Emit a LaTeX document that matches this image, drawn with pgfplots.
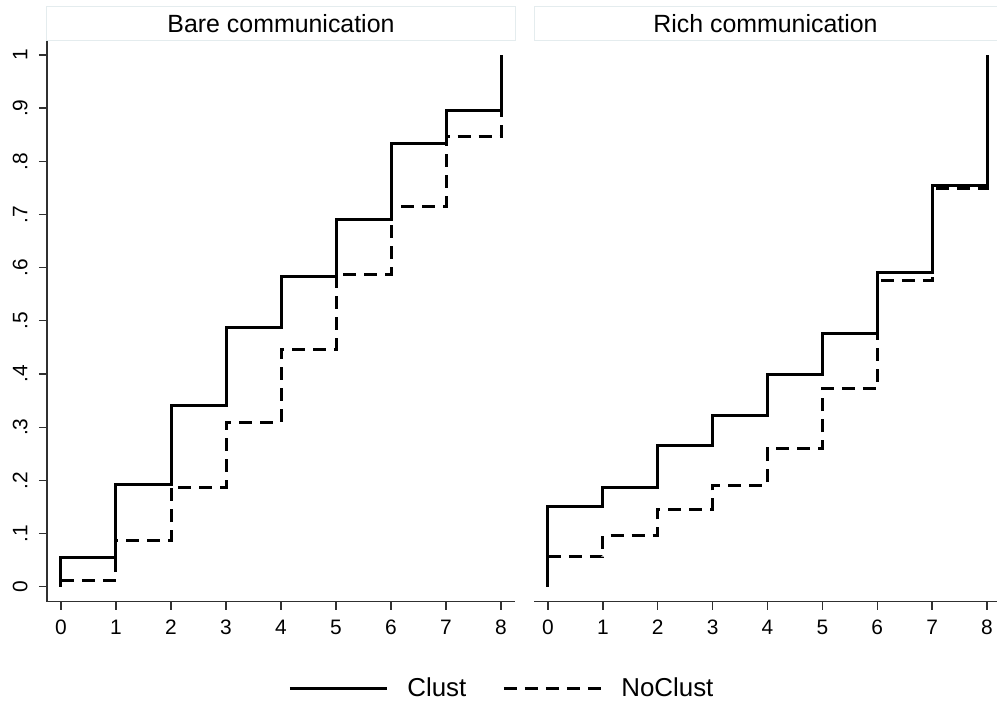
\documentclass[border=0pt]{standalone}
\usepackage{fontspec}
\setmainfont{Liberation Sans}
\usepackage{pgfplots}
\pgfplotsset{compat=1.18}
\definecolor{titleline}{HTML}{E4ECEE}
\definecolor{axgray}{HTML}{303030}
\pgfplotsset{
  every axis title shift=0pt,
  panel/.style={
    scale only axis, height=560.7bp,
    ymin=-0.0282, ymax=1.0263,
    axis x line*=bottom,
    tick align=outside, major tick length=8bp,
    axis line style={axgray, line width=1.3bp},
    every tick/.style={axgray, line width=1.3bp},
    xtick={0,1,2,3,4,5,6,7,8},
    ytick={0,0.1,0.2,0.3,0.4,0.5,0.6,0.7,0.8,0.9,1},
    yticklabels={0,.1,.2,.3,.4,.5,.6,.7,.8,.9,1},
    /pgf/number format/assume math mode=true,
    ticklabel style={font=\fontsize{21}{21}\selectfont},
    xticklabel style={yshift=-7bp},
    yticklabel style={rotate=90, anchor=south, yshift=8bp},
    title style={at={(0.5,1)}, anchor=south, draw=titleline, line width=1bp,
      minimum height=34bp, inner sep=0pt, font=\fontsize{25}{25}\selectfont},
    legend image code/.code={\draw[#1] (0bp,0bp) -- (97bp,0bp);},
  },
  clust/.style={black, const plot, line width=3bp},
  noclust/.style={black, const plot, line width=3bp, dash pattern=on 13bp off 8bp},
}
\begin{document}
\begin{tikzpicture}[x=1bp,y=1bp]
\useasboundingbox (0,0) rectangle (997,703);
\begin{axis}[panel,
  at={(47bp,101.3bp)}, anchor=south west, width=468bp,
  xmin=-0.2545, xmax=8.2545,
  axis y line*=left,
  title={Bare communication},
  title style={minimum width=468bp},
  legend style={at={(0.972,-0.154)}, anchor=center, draw=none, fill=none,
    legend columns=2, font=\fontsize{26}{26}\selectfont,
    /tikz/every odd column/.append style={column sep=17bp},
    /tikz/every even column/.append style={column sep=34bp}},
]
\addplot[clust] coordinates {(0,0) (0,0.0545) (1,0.1926) (2,0.3417) (3,0.488) (4,0.583) (5,0.691) (6,0.8326) (7,0.8965) (8,1)};
\addlegendentry{Clust}
\addplot[noclust] coordinates {(0,0.0126) (1,0.0878) (2,0.187) (3,0.309) (4,0.4465) (5,0.588) (6,0.7154) (7,0.8463) (8,1)};
\addlegendentry{NoClust}
\end{axis}
\begin{axis}[panel,
  at={(534bp,101.3bp)}, anchor=south west, width=463bp,
  xmin=-0.2545, xmax=8.182,
  axis y line=none,
  title={Rich communication},
  title style={minimum width=463bp},
]
\addplot[clust] coordinates {(0,0) (0,0.15) (1,0.1875) (2,0.266) (3,0.3223) (4,0.400) (5,0.4753) (6,0.5906) (7,0.7536) (8,1)};
\addplot[noclust] coordinates {(0,0.0564) (1,0.0967) (2,0.146) (3,0.191) (4,0.259) (5,0.3724) (6,0.5755) (7,0.7486) (8,1)};
\end{axis}
\end{tikzpicture}
\end{document}
